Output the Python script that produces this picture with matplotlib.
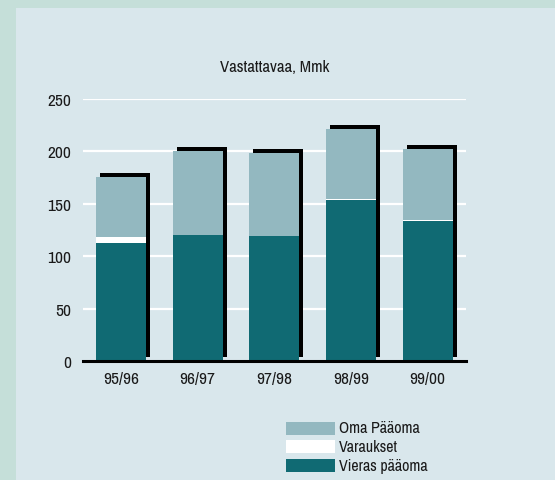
import matplotlib
matplotlib.use("Agg")
import matplotlib.pyplot as plt
from matplotlib.patches import Rectangle
import numpy as np

plt.rcParams['font.family'] = ['Archivo Narrow', 'Roboto Condensed', 'Liberation Sans', 'DejaVu Sans']

categories = ["95/96", "96/97", "97/98", "98/99", "99/00"]
vieras = [113, 120, 119, 153.5, 134]
varaukset = [5.5, 0, 0, 1.5, 1]
oma = [57, 80, 79, 66.5, 67]
yticks = [0, 50, 100, 150, 200, 250]
legend_labels = ["Oma Pääoma", "Varaukset", "Vieras pääoma"]
title = "Vastattavaa, Mmk"

c_dark = "#106a73"
c_light = "#93b8c0"
c_white = "#ffffff"
c_panel = "#d9e7ec"
c_border = "#c5dfd9"
c_text = "#1a1a1a"

W, H = 555, 481
fig = plt.figure(figsize=(W / 100, H / 100), dpi=100)
fig.patch.set_facecolor(c_border)
fig.patches.append(Rectangle((16 / W, 0), 1 - 16 / W, 1 - 9 / H, transform=fig.transFigure,
                             facecolor=c_panel, edgecolor='none', zorder=-5))

left, right = 82.7 / W, 466 / W
bottom, top = (H - 362) / H, (H - 100) / H
ax = fig.add_axes([left, bottom, right - left, top - bottom])
ax.set_zorder(1)
ax.set_facecolor('none')
ax.set_xlim(-0.5, len(categories) - 0.5)
ax.set_ylim(0, 250)
for s in ax.spines.values():
    s.set_visible(False)

x = np.arange(len(categories))
vieras = np.array(vieras)
varaukset = np.array(varaukset)
oma = np.array(oma)
total = vieras + varaukset + oma

for t in yticks[1:]:
    ax.axhline(t, color='white', lw=1.6, zorder=1)

bw = 0.65
dx = 4 / 76.7
dy = 4 / 1.048
ax.bar(x + dx, total, bottom=dy, width=bw, color='black', zorder=2, clip_on=False)
ax.bar(x, vieras, width=bw, color=c_dark, zorder=3)
ax.bar(x, varaukset, bottom=vieras, width=bw, color=c_white, zorder=3)
ax.bar(x, oma, bottom=vieras + varaukset, width=bw, color=c_light, zorder=3)

ax.axhline(0, color='black', lw=2.2, zorder=4, clip_on=False)

ax.set_yticks(yticks)
ax.set_yticklabels([str(t) for t in yticks])
ax.set_xticks(x)
ax.set_xticklabels(categories)
ax.tick_params(axis='both', length=0, labelsize=12.5, colors=c_text)
ax.tick_params(axis='y', pad=8)
ax.tick_params(axis='x', pad=7.5)

fig.text((left + right) / 2, 1 - 67 / H, title, ha='center', va='center', fontsize=12, color=c_text)

leg_colors = [c_light, c_white, c_dark]
row_centers = [429, 447.5, 466.5]
for lab, col, yc in zip(legend_labels, leg_colors, row_centers):
    fig.patches.append(Rectangle((286 / W, (H - yc - 6.5) / H), 49 / W, 13 / H,
                                 transform=fig.transFigure, facecolor=col, edgecolor='none', zorder=2))
    fig.text(339 / W, (H - yc) / H, lab, ha='left', va='center', fontsize=11.5, color=c_text)

fig.savefig("out.png", dpi=100, facecolor=fig.get_facecolor())
